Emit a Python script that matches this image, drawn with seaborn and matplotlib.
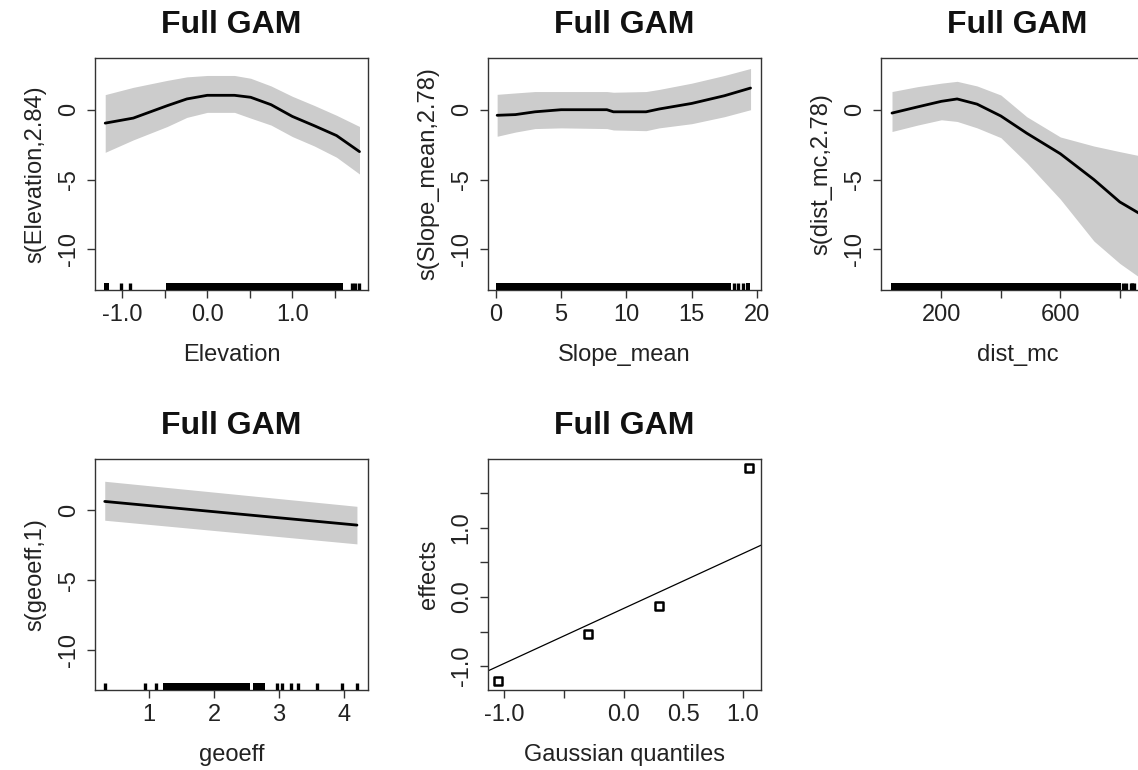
import numpy as np
import pandas as pd
import matplotlib
matplotlib.use("Agg")
import matplotlib.pyplot as plt
import seaborn as sns

# ---- data ----
# Elevation smooth
elev_x = [-1.20, -0.87, -0.47, -0.24, 0.00, 0.32, 0.51, 0.75, 1.00, 1.26, 1.52, 1.79]
elev_fit = [-0.96, -0.60, 0.29, 0.77, 1.03, 1.03, 0.89, 0.36, -0.48, -1.15, -1.85, -3.00]
elev_up = [1.08, 1.60, 2.10, 2.35, 2.45, 2.45, 2.25, 1.70, 0.96, 0.30, -0.40, -1.20]
elev_lo = [-3.05, -2.16, -1.20, -0.55, -0.19, -0.19, -0.60, -1.10, -1.92, -2.60, -3.40, -4.60]
elev_rug = [-1.01, -0.91, 1.70, 1.74, 1.78]
elev_rug_dense = [(-1.21, -1.15), (-0.48, 1.60)]

# Slope_mean smooth
slope_x = [0.1, 1.5, 3.0, 5.0, 8.5, 9.0, 11.5, 12.5, 15.0, 17.5, 19.5]
slope_fit = [-0.40, -0.35, -0.15, 0.00, 0.00, -0.15, -0.15, 0.05, 0.45, 1.00, 1.55]
slope_up = [1.10, 1.20, 1.30, 1.30, 1.30, 1.25, 1.30, 1.45, 1.90, 2.45, 2.95]
slope_lo = [-1.90, -1.60, -1.35, -1.30, -1.35, -1.45, -1.50, -1.30, -1.00, -0.50, 0.00]
slope_rug = [18.2, 18.55, 18.9]
slope_rug_dense = [(0.0, 18.0), (19.15, 19.45)]

# dist_mc smooth
dist_x = [34, 120, 200, 253, 320, 400, 487, 600, 713, 800, 880]
dist_fit = [-0.24, 0.20, 0.60, 0.77, 0.40, -0.45, -1.68, -3.15, -5.00, -6.60, -7.60]
dist_up = [1.30, 1.65, 1.90, 2.03, 1.70, 1.05, -0.50, -1.95, -2.60, -3.00, -3.35]
dist_lo = [-1.56, -1.10, -0.72, -0.84, -1.30, -2.00, -3.80, -6.40, -9.40, -11.00, -12.20]
dist_rug = [811, 822, 836, 841, 847, 865, 880]
dist_rug_dense = [(30, 805)]

# geoeff smooth (linear)
geo_x = [0.32, 4.20]
geo_fit = [0.65, -1.05]
geo_up = [2.10, 0.30]
geo_lo = [-0.70, -2.40]
geo_rug = [0.32, 0.94, 1.11, 2.97, 3.05, 3.18, 3.29, 3.58, 3.97, 4.20]
geo_rug_dense = [(1.22, 2.56), (2.60, 2.78)]

# random effect QQ plot
qq_quantiles = [-1.05, -0.30, 0.30, 1.05]
qq_effects = [-1.22, -0.53, -0.13, 1.87]

TITLE = "Full GAM"

sns.set_theme(style="ticks")
plt.rcParams['font.family'] = ['Liberation Sans', 'DejaVu Sans']
plt.rcParams['axes.edgecolor'] = '#333333'
plt.rcParams['axes.linewidth'] = 1.0

fig = plt.figure(figsize=(11.38, 7.7), dpi=100)

W = 273 / 1138
H1 = 232 / 770
H2 = 231 / 770
pos = {
    'elev': [95 / 1138, 1 - 290 / 770, W, H1],
    'slope': [488 / 1138, 1 - 290 / 770, W, H1],
    'dist': [881 / 1138, 1 - 290 / 770, W, H1],
    'geo': [95 / 1138, 1 - 690 / 770, W, H2],
    'qq': [488 / 1138, 1 - 690 / 770, W, H2],
}


def style_axes(ax, xlabel, ylabel):
    for s in ax.spines.values():
        s.set_visible(True)
        s.set_color('#333333')
        s.set_linewidth(1.0)
    ax.tick_params(axis='both', direction='out', length=6, width=1.0,
                   color='#333333', labelsize=17, labelcolor='#222222')
    ax.tick_params(axis='x', pad=4)
    ax.tick_params(axis='y', pad=5, labelrotation=90)
    for lab in ax.get_yticklabels():
        lab.set_va('center')
    ax.set_xlabel(xlabel, fontsize=17, color='#222222', labelpad=13)
    ax.set_ylabel(ylabel, fontsize=17, color='#222222', labelpad=8)
    ax.set_title(TITLE, fontsize=23, fontweight='bold', pad=18, color='#111111')
    ax.grid(False)


def gam_panel(ax, x, fit, up, lo, rug, rug_dense, xlabel, ylabel,
              xticks, xticklabels, xlim):
    ax.fill_between(x, lo, up, color='#cccccc', lw=0, zorder=1)
    df = pd.DataFrame({'x': x, 'fit': fit})
    sns.lineplot(data=df, x='x', y='fit', ax=ax, color='black', lw=2.0, zorder=3)
    sns.rugplot(x=rug, ax=ax, height=0.03, color='black', linewidth=2.4,
                expand_margins=False, zorder=5)
    for a, b in rug_dense:
        ax.axvspan(a, b, ymin=0, ymax=0.03, color='black', lw=0, zorder=4)
    ax.set_xlim(xlim)
    ax.set_ylim(-12.9, 3.7)
    ax.set_yticks([-10, -5, 0])
    ax.set_yticklabels(['-10', '-5', '0'])
    ax.set_xticks(xticks)
    ax.set_xticklabels(xticklabels)
    style_axes(ax, xlabel, ylabel)


ax = fig.add_axes(pos['elev'])
gam_panel(ax, elev_x, elev_fit, elev_up, elev_lo, elev_rug, elev_rug_dense,
          'Elevation', 's(Elevation,2.84)',
          [-1.0, -0.5, 0.0, 0.5, 1.0, 1.5], ['-1.0', '', '0.0', '', '1.0', ''],
          (-1.32, 1.89))

ax = fig.add_axes(pos['slope'])
gam_panel(ax, slope_x, slope_fit, slope_up, slope_lo, slope_rug, slope_rug_dense,
          'Slope_mean', 's(Slope_mean,2.78)',
          [0, 5, 10, 15, 20], ['0', '5', '10', '15', '20'],
          (-0.6, 20.3))

ax = fig.add_axes(pos['dist'])
gam_panel(ax, dist_x, dist_fit, dist_up, dist_lo, dist_rug, dist_rug_dense,
          'dist_mc', 's(dist_mc,2.78)',
          [200, 400, 600, 800], ['200', '', '600', ''],
          (-3, 915))

ax = fig.add_axes(pos['geo'])
gam_panel(ax, geo_x, geo_fit, geo_up, geo_lo, geo_rug, geo_rug_dense,
          'geoeff', 's(geoeff,1)',
          [1, 2, 3, 4], ['1', '2', '3', '4'],
          (0.17, 4.37))

# QQ plot of random effects, reference line through the quartiles as qqline does
ax = fig.add_axes(pos['qq'])
q_lo, q_hi = np.quantile(qq_effects, [0.25, 0.75])
slope = (q_hi - q_lo) / (2 * 0.6744898)
intercept = q_lo + slope * 0.6744898
ax.axline((0, intercept), slope=slope, color='black', lw=0.9, zorder=2)
sns.scatterplot(x=qq_quantiles, y=qq_effects, ax=ax, marker='s', s=26,
                facecolor='white', edgecolor='black', linewidth=1.8, zorder=3)
ax.set_xlim(-1.134, 1.15)
ax.set_ylim(-1.344, 1.994)
ax.set_xticks([-1.0, -0.5, 0.0, 0.5, 1.0])
ax.set_xticklabels(['-1.0', '', '0.0', '0.5', '1.0'])
ax.set_yticks([-1.0, -0.5, 0.0, 0.5, 1.0, 1.5])
ax.set_yticklabels(['-1.0', '', '0.0', '', '1.0', ''])
style_axes(ax, 'Gaussian quantiles', 'effects')

fig.savefig('out.png', dpi=100)
